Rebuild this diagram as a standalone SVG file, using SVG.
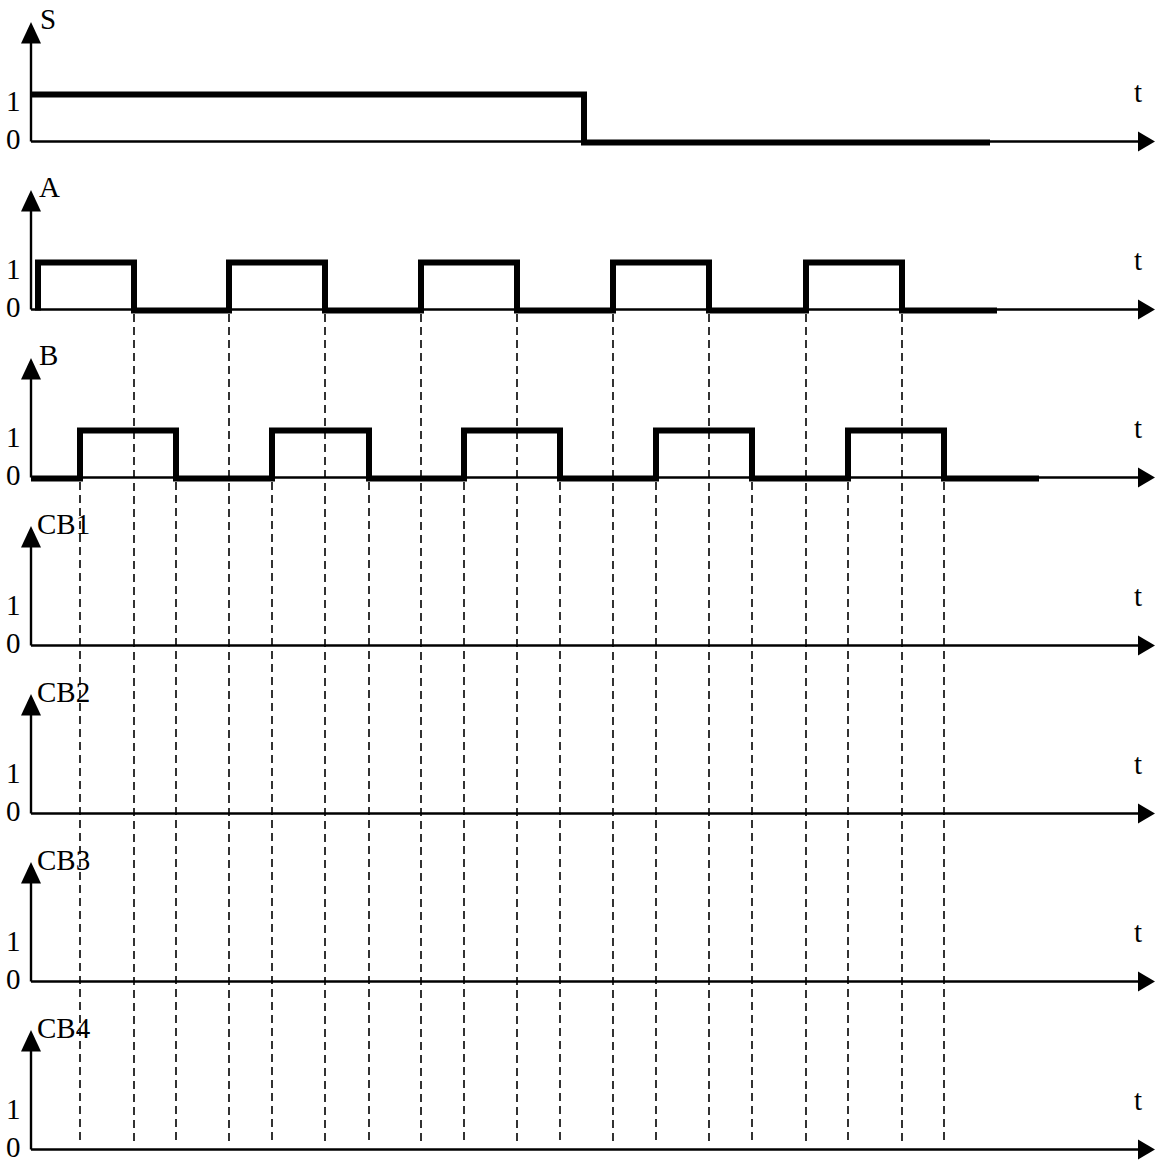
<svg xmlns="http://www.w3.org/2000/svg" width="1155" height="1162" viewBox="0 0 1155 1162">
<style>
.ax{stroke:#000;stroke-width:2.4;fill:none}
.ah{fill:#000}
.sig{stroke:#000;stroke-width:6;fill:none;stroke-linejoin:miter;stroke-linecap:butt}
.dash{stroke:#000;stroke-width:1.6;stroke-dasharray:8 5;fill:none}
.lb{font-family:"Liberation Serif","Times New Roman",serif;font-size:29px;fill:#000}
</style>
<defs>
<g id="axes">
<line class="ax" x1="31" y1="141.5" x2="31" y2="40"/>
<polygon class="ah" points="31,22 21,43.5 41,43.5"/>
<line class="ax" x1="31" y1="141.5" x2="1140" y2="141.5"/>
<polygon class="ah" points="1155,141.5 1138,131.5 1138,151.5"/>
<text class="lb" x="6" y="111">1</text>
<text class="lb" x="6" y="148.5">0</text>
<text class="lb" x="1134" y="102">t</text>
</g>
</defs>
<g id="panel-S">
<use href="#axes"/>
<text class="lb" x="40" y="29">S</text>
</g>
<g id="panel-A" transform="translate(0,168)">
<use href="#axes"/>
<text class="lb" x="39" y="29">A</text>
</g>
<g id="panel-B" transform="translate(0,336)">
<use href="#axes"/>
<text class="lb" x="39" y="29">B</text>
</g>
<g id="panel-CB1" transform="translate(0,504)">
<use href="#axes"/>
<text class="lb" x="37" y="30">CB1</text>
</g>
<g id="panel-CB2" transform="translate(0,672)">
<use href="#axes"/>
<text class="lb" x="37" y="30">CB2</text>
</g>
<g id="panel-CB3" transform="translate(0,840)">
<use href="#axes"/>
<text class="lb" x="37" y="30">CB3</text>
</g>
<g id="panel-CB4" transform="translate(0,1008)">
<use href="#axes"/>
<text class="lb" x="37" y="30">CB4</text>
</g>
<g id="signals">
<polyline class="sig" points="31,94.5 584,94.5 584,142.5 990,142.5"/>
<polyline class="sig" points="38,310.5 38,262.5 134,262.5 134,310.5 229,310.5 229,262.5 325,262.5 325,310.5 421,310.5 421,262.5 517,262.5 517,310.5 613,310.5 613,262.5 709,262.5 709,310.5 806,310.5 806,262.5 902,262.5 902,310.5 997,310.5"/>
<polyline class="sig" points="31,478.5 80,478.5 80,430.5 176,430.5 176,478.5 272,478.5 272,430.5 369,430.5 369,478.5 464,478.5 464,430.5 560,430.5 560,478.5 656,478.5 656,430.5 752,430.5 752,478.5 848,478.5 848,430.5 944,430.5 944,478.5 1039,478.5"/>
</g>
<g id="connectors">
<line class="dash" x1="134" y1="314" x2="134" y2="1144"/>
<line class="dash" x1="229" y1="314" x2="229" y2="1144"/>
<line class="dash" x1="325" y1="314" x2="325" y2="1144"/>
<line class="dash" x1="421" y1="314" x2="421" y2="1144"/>
<line class="dash" x1="517" y1="314" x2="517" y2="1144"/>
<line class="dash" x1="613" y1="314" x2="613" y2="1144"/>
<line class="dash" x1="709" y1="314" x2="709" y2="1144"/>
<line class="dash" x1="806" y1="314" x2="806" y2="1144"/>
<line class="dash" x1="902" y1="314" x2="902" y2="1144"/>
<line class="dash" x1="80" y1="482" x2="80" y2="1144"/>
<line class="dash" x1="176" y1="482" x2="176" y2="1144"/>
<line class="dash" x1="272" y1="482" x2="272" y2="1144"/>
<line class="dash" x1="369" y1="482" x2="369" y2="1144"/>
<line class="dash" x1="464" y1="482" x2="464" y2="1144"/>
<line class="dash" x1="560" y1="482" x2="560" y2="1144"/>
<line class="dash" x1="656" y1="482" x2="656" y2="1144"/>
<line class="dash" x1="752" y1="482" x2="752" y2="1144"/>
<line class="dash" x1="848" y1="482" x2="848" y2="1144"/>
<line class="dash" x1="944" y1="482" x2="944" y2="1144"/>
</g>
</svg>
